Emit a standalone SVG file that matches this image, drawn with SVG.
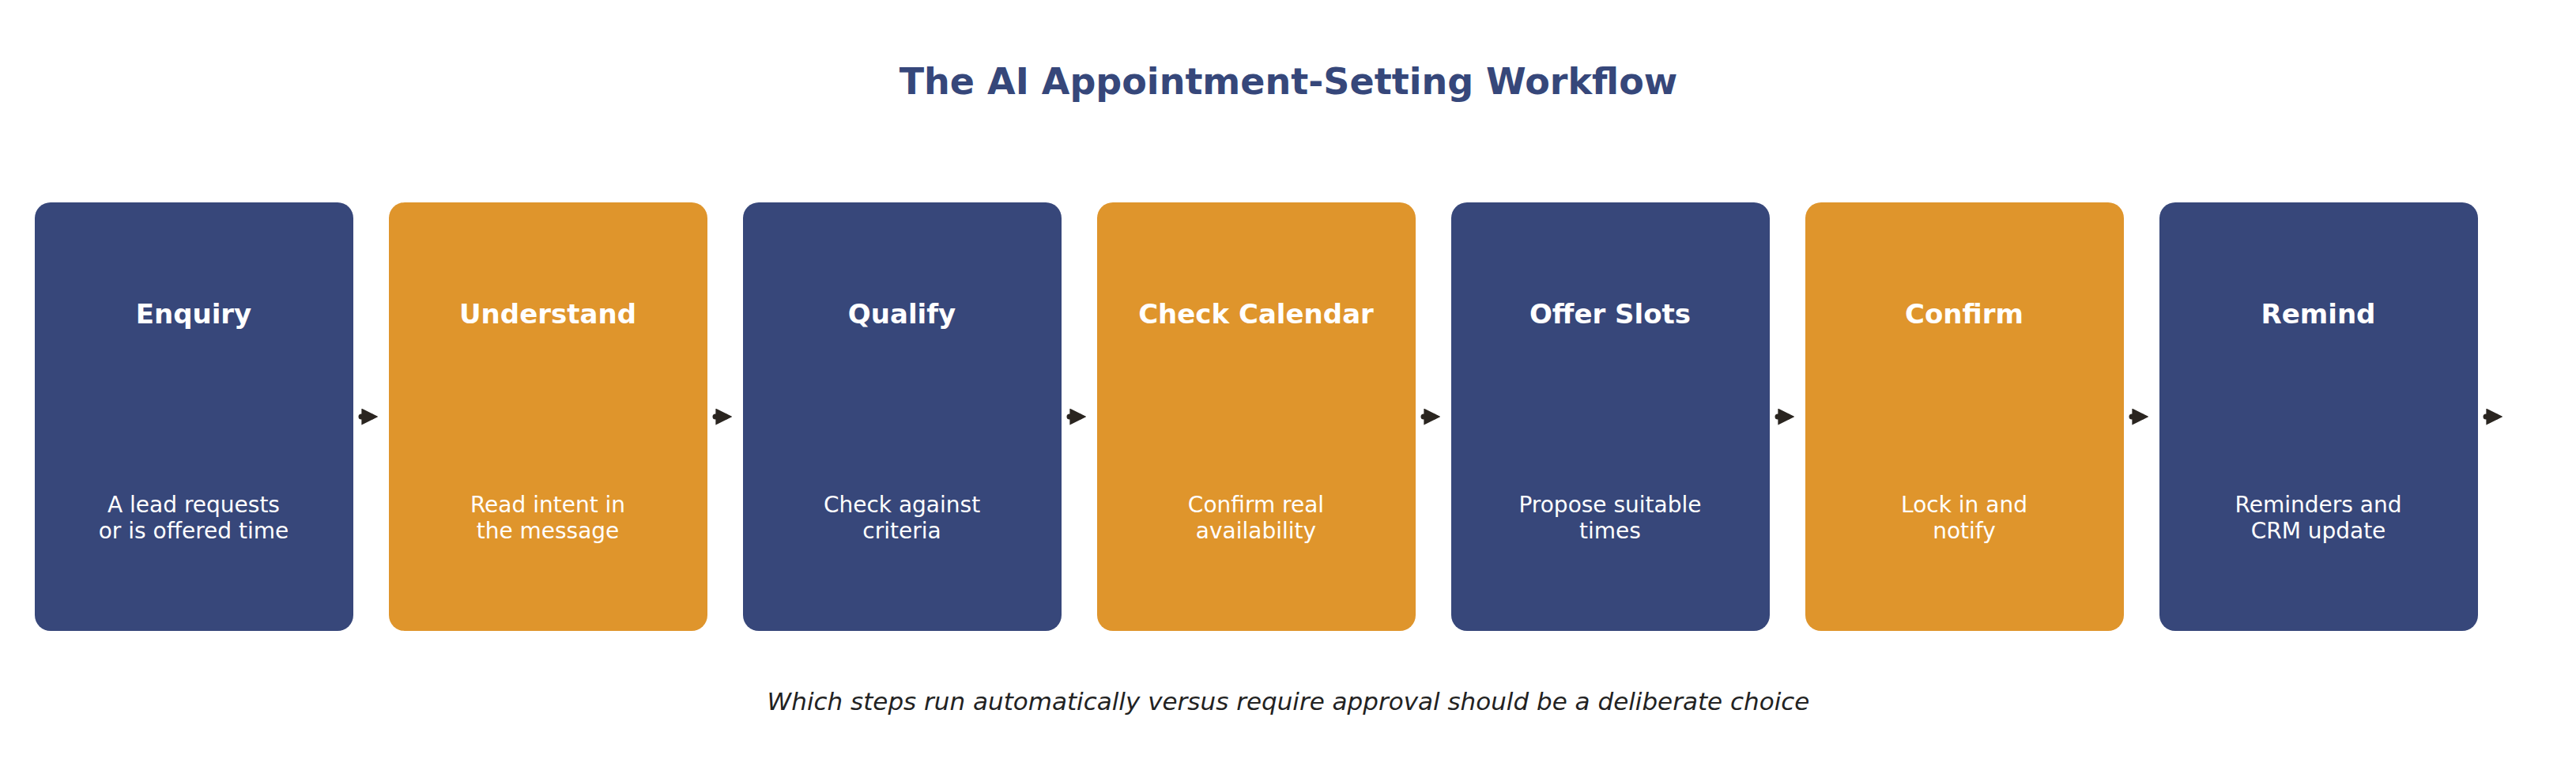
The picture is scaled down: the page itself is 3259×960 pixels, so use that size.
<svg xmlns="http://www.w3.org/2000/svg" width="3259" height="960" viewBox="0 0 3259 960">
<style>
text{font-family:"DejaVu Sans","Noto Sans",sans-serif;text-anchor:middle}
.t{font-size:46px;font-weight:bold;fill:#36477a}
.h{font-size:34px;font-weight:bold;fill:#fff}
.d{font-size:28px;fill:#fff}
.f{font-size:31px;font-style:italic;fill:#222}
.b{fill:#37477a}.o{fill:#df952c}
.c line{stroke:#2a2520;stroke-width:7;stroke-linecap:round}
</style>
<defs><marker id="a" viewBox="0 0 10 10" refX="6" refY="5" markerWidth="3" markerHeight="3" orient="auto" markerUnits="strokeWidth"><path d="M0,0L10,5L0,10z" fill="#2a2520"/></marker></defs>
<rect width="3259" height="960" fill="#fff"/>
<text class="t" x="1630" y="119">The AI Appointment-Setting Workflow</text>
<g id="n1"><rect class="b" x="44" y="256" width="403" height="542" rx="20"/><text class="h" x="245" y="409">Enquiry</text><text class="d" x="245" y="648">A lead requests</text><text class="d" x="245" y="681">or is offered time</text></g>
<g id="n2"><rect class="o" x="492" y="256" width="403" height="542" rx="20"/><text class="h" x="693" y="409">Understand</text><text class="d" x="693" y="648">Read intent in</text><text class="d" x="693" y="681">the message</text></g>
<g id="n3"><rect class="b" x="940" y="256" width="403" height="542" rx="20"/><text class="h" x="1141" y="409">Qualify</text><text class="d" x="1141" y="648">Check against</text><text class="d" x="1141" y="681">criteria</text></g>
<g id="n4"><rect class="o" x="1388" y="256" width="403" height="542" rx="20"/><text class="h" x="1589" y="409">Check Calendar</text><text class="d" x="1589" y="648">Confirm real</text><text class="d" x="1589" y="681">availability</text></g>
<g id="n5"><rect class="b" x="1836" y="256" width="403" height="542" rx="20"/><text class="h" x="2037" y="409">Offer Slots</text><text class="d" x="2037" y="648">Propose suitable</text><text class="d" x="2037" y="681">times</text></g>
<g id="n6"><rect class="o" x="2284" y="256" width="403" height="542" rx="20"/><text class="h" x="2485" y="409">Confirm</text><text class="d" x="2485" y="648">Lock in and</text><text class="d" x="2485" y="681">notify</text></g>
<g id="n7"><rect class="b" x="2732" y="256" width="403" height="542" rx="20"/><text class="h" x="2933" y="409">Remind</text><text class="d" x="2933" y="648">Reminders and</text><text class="d" x="2933" y="681">CRM update</text></g>
<g class="c">
<line x1="457" y1="527" x2="470" y2="527" marker-end="url(#a)"/>
<line x1="905" y1="527" x2="918" y2="527" marker-end="url(#a)"/>
<line x1="1353" y1="527" x2="1366" y2="527" marker-end="url(#a)"/>
<line x1="1801" y1="527" x2="1814" y2="527" marker-end="url(#a)"/>
<line x1="2249" y1="527" x2="2262" y2="527" marker-end="url(#a)"/>
<line x1="2697" y1="527" x2="2710" y2="527" marker-end="url(#a)"/>
<line x1="3145" y1="527" x2="3158" y2="527" marker-end="url(#a)"/>
</g>
<text class="f" x="1630" y="898">Which steps run automatically versus require approval should be a deliberate choice</text>
</svg>
